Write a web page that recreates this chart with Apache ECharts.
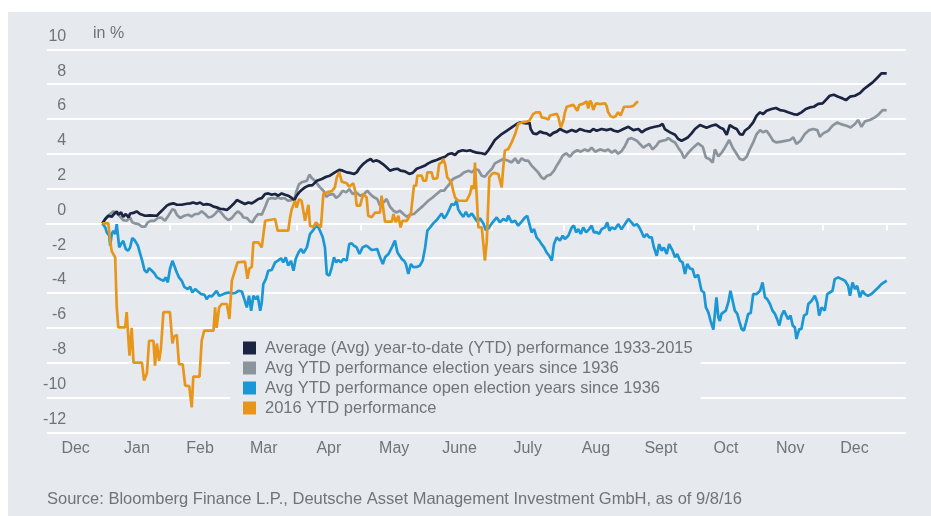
<!DOCTYPE html>
<html>
<head>
<meta charset="utf-8">
<script src="https://cdn.jsdelivr.net/npm/echarts@6/dist/echarts.min.js"></script>
<style>
  body { margin: 0; background: #ffffff; }
  #chart { position: absolute; left: 8px; top: 12px; width: 923px; height: 504px; background: #e6e9ed; }
</style>
</head>
<body>
<div id="chart"></div>
<script>
// x = trading days since 31 Dec, y = YTD performance in %
var monthNames = ['Dec', 'Jan', 'Feb', 'Mar', 'Apr', 'May', 'June', 'July', 'Aug', 'Sept', 'Oct', 'Nov', 'Dec'];
var monthBounds = [0.7, 21.5, 41.3, 62.4, 83.1, 104.4, 125.1, 148.2, 168.9, 190.0, 210.7, 231.3, 252.0];
var xMin = -17.9, xMax = 258.2;
var yTicks = [-12, -10, -8, -6, -4, -2, 0, 2, 4, 6, 8, 10];

var avgDays = [0,0.9,1.9,3.0,3.9,4.6,5.1,6.0,6.7,7.5,8.4,8.9,10.0,11.0,12.1,13.7,15.3,17.5,18.5,19.6,20.7,21.7,22.8,23.9,25.5,27.1,28.2,29.2,30.3,31.4,32.4,33.5,34.6,35.7,36.7,37.8,38.9,40.0,41.0,42.1,43.2,44.8,45.8,46.9,48.0,49.0,50.1,51.2,52.3,53.3,54.4,55.5,56.5,57.6,58.7,59.7,60.8,61.7,62.4,63.2,64.0,65.1,66.2,67.5,68.9,70.5,71.9,73.1,74.7,76.1,77.2,78.5,79.6,80.8,81.7,82.8,83.8,85.1,86.2,87.0,87.9,89.0,90.1,91.3,92.4,93.5,94.8,95.8,97.2,98.6,99.7,101.0,102.3,103.7,104.7,105.8,107.4,108.7,110.1,111.1,112.2,113.3,114.3,115.8,117.0,118.1,119.2,120.3,121.9,122.9,124.0,125.1,126.1,128.3,129.9,131.5,133.1,134.2,136.3,137.2,137.6,138.4,139.5,140.6,141.7,142.7,143.8,144.9,146.0,147.0,148.1,149.2,150.8,152.2,153.4,155.0,156.7,157.7,158.8,160.4,162.0,163.3,164.4,165.7,167.4,169.0,170.6,172.2,173.3,174.3,175.9,177.5,179.1,180.0,180.7,182.4,184.0,185.0,186.1,187.2,188.2,189.3,190.4,192.0,194.1,195.7,197.1,198.4,199.5,200.6,201.6,202.7,203.8,204.8,205.7,206.4,207.8,209.1,210.2,211.3,212.3,213.4,215.0,216.4,217.7,219.0,220.3,222.0,223.2,224.6,226.0,227.3,228.6,230.0,231.4,232.7,233.7,235.0,236.4,237.5,238.9,240.2,241.8,243.4,244.7,246.0,247.5,248.9,250.3,252.0];
var avgVals = [0,0.25,0.44,0.38,0.57,0.69,0.5,0.63,0.38,0.54,0.34,0.57,0.6,0.69,0.54,0.44,0.46,0.44,0.63,0.82,1.02,1.11,1.15,1.07,1.07,1.13,1.15,1.2,1.13,1.2,1.07,1.11,1.07,0.96,0.92,0.84,0.82,0.77,0.92,1.11,1.34,1.2,1.11,1.2,1.15,1.26,1.40,1.45,1.69,1.72,1.65,1.69,1.59,1.72,1.65,1.59,1.46,1.34,1.59,1.78,1.92,2.07,2.17,2.2,2.45,2.55,2.68,2.74,2.93,3.07,3.03,2.93,2.9,2.84,2.93,3.22,3.41,3.6,3.7,3.55,3.62,3.55,3.41,3.22,3.03,3.1,3.14,3.03,2.99,2.84,2.9,3.14,3.22,3.33,3.45,3.55,3.64,3.74,3.83,3.97,4.03,3.93,4.12,4.2,4.16,4.2,4.12,4.06,4.03,3.97,4.2,4.5,4.79,5.13,5.32,5.51,5.71,5.80,5.74,5.8,5.42,5.17,5.13,5.27,5.2,5.17,5.04,5.2,5.27,5.42,5.32,5.23,5.36,5.27,5.42,5.32,5.27,5.42,5.32,5.42,5.36,5.42,5.32,5.27,5.42,5.55,5.36,5.42,5.23,5.36,5.48,5.55,5.61,5.71,5.42,5.23,5.09,4.85,4.75,4.85,4.95,5.17,5.42,5.65,5.5,5.61,5.67,5.51,5.42,5.09,5.65,5.51,5.42,5.13,5.09,5.32,5.51,5.8,6.19,6.38,6.28,6.47,6.57,6.63,6.51,6.47,6.38,6.28,6.24,6.38,6.57,6.66,6.7,6.86,6.89,7.14,7.33,7.39,7.28,7.2,7.08,7.28,7.33,7.48,7.72,7.9,8.1,8.35,8.62,8.62];

var elecDays = [0,1.4,2.5,3.5,4.9,5.7,6.7,7.8,8.9,9.6,10.5,11.6,12.7,13.7,14.6,15.6,16.7,17.8,18.9,20.1,21.4,22.5,23.2,23.9,25.0,26.3,27.6,28.7,29.8,30.8,31.9,33.0,34.0,35.1,36.2,37.3,38.1,39.4,40.5,41.6,42.6,43.5,44.6,45.3,46.5,47.4,48.2,49.0,50.1,51.2,52.3,53.3,54.4,55.5,56.3,57.4,58.5,59.6,60.8,61.7,62.4,63.2,64.0,65.7,66.5,67.3,68.3,69.9,71.0,71.9,72.9,74.2,75.1,76.1,77.2,78.3,79.3,80.4,81.5,82.8,84.1,85.1,86.0,87.0,88.3,89.2,90.3,91.3,92.4,93.5,94.6,95.6,96.7,97.8,98.8,100.1,101.5,103.1,104.7,106.1,107.4,108.7,109.8,110.6,111.5,112.6,113.6,114.9,116.2,117.6,118.7,119.7,120.8,121.9,122.9,124.0,125.1,126.1,127.7,128.8,130.4,131.5,132.6,133.6,134.7,135.8,136.8,137.9,139.0,140.0,141.1,141.9,142.9,144.0,145.1,146.0,147.0,147.9,149.0,150.2,151.3,152.6,153.7,155.0,156.1,157.2,158.3,159.9,161.5,162.5,163.6,164.7,165.7,166.8,167.9,169.0,170.0,171.7,172.7,173.8,174.6,175.7,176.8,177.9,178.9,180.0,181.1,181.8,182.9,184.0,185.0,186.1,186.9,187.7,188.8,189.8,191.4,192.9,193.9,195.0,196.1,196.8,197.9,199.0,200.0,201.4,202.5,203.5,204.8,205.9,207.0,208.0,209.1,210.2,211.3,212.3,213.4,214.5,215.5,216.6,218.2,219.8,220.9,222.0,223.0,224.3,225.7,227.1,228.4,229.7,230.5,231.6,233.2,234.6,236.1,237.8,239.1,240.4,241.8,242.8,243.9,245.0,246.6,248.2,249.3,250.7,252.0];
var elecVals = [0,0.34,0.54,0.69,0.54,0.38,0.19,0.15,0.34,0.06,0,-0.04,-0.19,-0.19,0.06,0.15,0.15,0.31,0.34,0.15,0.5,0.82,0.76,0.5,0.31,0.44,0.5,0.4,0.54,0.54,0.69,0.54,0.34,0.38,0.54,0.77,0.63,0.34,0.19,0.31,0.54,0.69,0.54,0.34,0.3,0.11,0.06,0.31,0.54,0.5,0.96,1.40,1.46,1.42,1.49,1.42,1.46,1.3,1.34,1.4,1.88,2.26,2.36,2.45,2.8,2.6,2.45,2.07,1.88,1.53,1.65,1.68,1.46,1.6,1.88,1.78,1.97,1.69,1.78,1.59,1.69,1.88,1.69,1.53,1.4,1.02,1.2,1.4,0.96,0.73,0.63,0.73,0.54,0.38,0.5,0.54,0.77,1.02,1.3,1.49,1.69,1.88,1.88,2.07,2.26,2.55,2.64,2.74,2.93,3.03,2.93,3.12,3.07,2.74,2.68,2.93,3.12,3.45,3.6,3.7,3.6,3.5,3.74,3.45,3.74,3.6,3.6,3.32,3.12,2.93,2.64,2.55,2.74,2.8,3.03,3.32,3.6,3.89,4.03,3.83,4.07,4.2,4.12,4.25,4.16,4.35,4.12,4.25,4.16,4.25,4.07,4.2,4.0,4.15,4.45,4.85,4.9,4.75,4.56,4.35,4.45,4.56,4.25,4.45,4.7,4.75,4.79,4.9,4.75,4.65,4.35,4.07,3.74,3.93,4.16,4.35,4.6,4.4,3.79,3.7,3.5,4.25,3.85,4.07,4.35,4.79,4.35,4.07,3.7,3.64,3.83,4.25,4.65,5.13,5.36,5.23,5.32,5.04,4.75,4.65,4.7,4.75,4.79,4.94,4.56,4.75,5.13,5.36,5.42,5.36,4.98,5.17,5.32,5.61,5.8,5.67,5.61,5.51,5.71,5.94,5.55,5.86,5.94,6.09,6.24,6.51,6.5];

var openDays = [0,0.9,1.4,2.2,2.5,3.0,3.5,4.1,4.6,5.4,6.0,6.7,7.5,8.2,8.9,9.6,10.5,11.4,12.1,12.8,13.5,14.3,15.0,15.9,16.7,17.5,18.5,19.6,20.4,21.0,21.7,22.5,23.1,23.9,24.6,25.5,26.3,27.4,28.2,28.9,29.8,30.6,31.7,32.8,33.5,34.3,35.1,36.0,36.7,37.5,38.4,39.4,40.5,41.6,42.6,43.7,44.8,45.6,46.4,47.1,47.8,48.5,49.3,49.9,50.7,51.2,51.7,52.5,53.3,54.4,55.5,56.3,57.4,58.1,58.9,59.7,60.6,61.4,62.1,63.0,63.8,64.6,65.7,66.7,67.6,68.3,69.1,69.9,70.8,71.5,72.1,72.9,73.7,74.4,75.1,75.8,76.6,77.4,78.5,79.3,80.1,80.8,81.7,82.6,83.6,84.7,85.4,86.5,87.6,88.3,89.2,90.1,90.8,91.9,93.0,94.0,94.8,96.2,96.9,97.5,98.3,99.1,99.9,101.0,102.0,102.9,103.7,104.4,105.3,106.3,107.4,108.2,109.0,109.8,110.6,111.5,112.2,113.0,113.8,114.3,115.1,116.0,116.8,117.6,118.7,119.7,120.5,121.3,122.4,123.2,124.0,125.1,125.6,126.7,127.7,128.8,129.9,130.4,131.5,132.6,133.6,134.7,135.8,136.5,137.2,137.9,138.7,139.5,140.4,141.1,141.9,142.7,143.6,144.4,145.1,146.0,147.0,147.9,148.6,149.7,150.8,151.5,152.2,152.9,153.7,154.5,155.4,156.4,157.2,157.9,158.8,159.6,160.4,161.5,162.2,162.9,163.6,164.7,165.7,166.8,167.9,169.0,170.0,170.8,171.7,172.5,173.3,174.0,174.9,175.7,176.5,177.2,178.1,178.9,179.7,180.4,181.3,182.1,183.2,184.0,184.7,185.6,186.4,187.2,187.9,188.8,189.6,190.4,191.4,192.5,193.3,193.9,194.7,195.4,196.3,197.3,197.9,198.4,198.9,199.5,200.3,201.1,201.8,202.5,203.2,204.0,204.6,205.4,206.1,206.8,207.5,208.3,209.1,210.2,211.3,212.1,212.9,213.6,214.5,215.3,216.1,216.8,217.5,218.2,219.0,219.6,220.3,221.1,221.8,222.5,223.0,223.9,224.6,225.4,226.3,226.8,227.9,228.9,229.7,230.3,231.1,232.1,232.9,233.7,234.6,235.3,236.4,237.5,238.6,239.6,240.2,241.0,241.8,242.5,243.4,244.2,245.0,246.0,247.1,248.2,249.3,250.3,252.0];
var openVals = [0,-0.23,-0.52,-0.71,-1.28,-0.61,-0.42,-0.61,-0.04,-1.38,-1.19,-1.0,-1.47,-1.57,-1.38,-0.84,-1.0,-1.28,-1.72,-2.15,-2.68,-2.82,-2.57,-2.72,-2.87,-3.1,-3.2,-3.3,-3.1,-3.39,-2.62,-2.15,-2.43,-2.82,-3.1,-3.3,-3.64,-3.77,-3.64,-3.97,-3.77,-3.9,-4.06,-4.1,-4.35,-4.16,-4.2,-4.02,-3.87,-4.16,-4.1,-4.02,-3.97,-4.02,-4.0,-3.87,-3.91,-4.35,-4.83,-4.16,-5.02,-4.16,-4.35,-4.16,-5.02,-4.54,-3.49,-3.2,-2.72,-2.68,-2.24,-2.15,-2.0,-2.24,-1.95,-2.43,-2.15,-2.72,-2.05,-1.67,-1.47,-1.7,-1.38,-0.61,-0.42,-0.23,-0.13,-0.42,-0.8,-1.38,-2.91,-3.0,-2.52,-1.95,-2.24,-2.1,-2.24,-2.05,-2.14,-1.19,-1.15,-1.28,-1.38,-1.76,-1.38,-1.28,-1.35,-1.53,-1.5,-1.47,-1.95,-2.33,-1.95,-1.76,-1.38,-0.99,-1.67,-2.05,-2.14,-2.33,-2.91,-2.33,-2.52,-2.5,-2.43,-2.14,-1.38,-0.42,-0.23,0.0,0.19,0.38,0.57,0.29,0.48,0.82,1.11,1.05,1.30,0.82,0.57,0.38,0.67,0.38,0.57,0.29,0.1,0.29,0.0,-0.38,-0.29,0.0,0.06,0.34,0.06,0.25,0.15,0.44,0.06,0.15,-0.13,0.1,0.34,0.44,-0.04,-0.52,-0.33,-0.8,-0.99,-1.19,-1.38,-1.67,-1.86,-2.14,-1.19,-0.8,-0.99,-0.71,-0.9,-0.71,-0.23,-0.13,-0.52,-0.33,-0.61,-0.23,-0.52,-0.33,-0.13,-0.52,-0.5,-0.61,-0.33,-0.23,0.06,-0.42,-0.23,-0.33,-0.04,-0.33,-0.04,0.25,0.06,-0.13,-0.04,-0.23,-0.52,-0.8,-0.61,-0.8,-0.8,-1.38,-1.86,-1.19,-1.57,-1.38,-1.76,-1.19,-1.57,-1.95,-1.76,-2.14,-2.24,-2.9,-2.33,-2.6,-2.62,-3.1,-2.95,-3.87,-3.97,-4.83,-5.11,-5.6,-6.1,-4.25,-5.4,-5.6,-5.2,-5.11,-5.01,-4.54,-3.87,-4.44,-5.01,-5.2,-5.6,-6.07,-6.16,-5.7,-5.2,-5.15,-4.06,-4.06,-3.87,-3.39,-4.25,-4.35,-4.63,-5.01,-5.2,-5.5,-5.87,-5.3,-5.01,-5.1,-5.5,-5.3,-5.87,-5.97,-6.64,-6.07,-6.07,-5.3,-5.2,-4.63,-4.44,-4.16,-4.54,-5.3,-4.83,-5.01,-4.06,-3.97,-3.87,-3.2,-3.1,-3.2,-3.29,-3.58,-4.16,-3.39,-3.77,-3.58,-4.25,-3.87,-4.06,-4.16,-4.06,-3.87,-3.68,-3.49,-3.29];

var ytdDays = [0,1.9,2.5,3.0,4.1,4.6,5.1,7.3,7.8,8.7,9.4,10.0,12.7,13.4,14.3,15.0,16.4,16.9,17.5,18.2,18.8,19.6,21.7,22.5,23.0,23.9,24.6,25.8,26.6,27.9,28.7,29.2,31.2,31.9,32.7,35.7,36.2,36.7,37.5,38.4,40.0,40.8,41.6,42.1,43.4,45.8,46.6,47.2,48.0,48.5,50.1,51.2,52.3,55.5,56.3,59.7,60.3,60.8,61.9,62.4,63.2,64.0,65.1,66.2,66.7,67.8,68.6,70.2,71.0,72.1,73.7,74.7,75.3,76.1,76.9,78.5,79.3,80.6,81.2,81.7,82.8,83.8,84.9,85.4,86.5,87.6,89.2,89.7,90.8,93.0,93.5,94.3,95.1,95.8,96.4,97.8,99.1,99.7,100.1,100.8,101.2,102.6,103.1,104.0,104.4,105.8,106.3,107.6,108.2,109.0,109.5,110.1,110.8,112.1,112.7,113.3,114.3,117.0,118.1,118.7,119.4,119.7,120.8,121.9,122.9,123.5,124.3,125.1,125.8,127.2,128.3,128.8,129.3,130.4,131.5,132.6,133.6,134.7,136.3,137.2,138.4,139.3,140.6,141.1,142.2,143.3,143.8,144.4,146.0,146.5,147.0,147.3,148.1,148.6,149.2,150.2,151.3,151.8,152.6,153.2,154.0,154.7,155.6,156.1,156.7,157.2,157.7,158.6,159.9,161.5,162.0,162.5,163.3,164.1,164.9,165.7,166.5,167.6,169.5,170.6,171.1,171.7,172.2];
var ytdVals = [0,0,-1.0,-1.6,-1.95,-4.8,-5.97,-5.97,-5.1,-7.6,-6.0,-8.0,-8.0,-9.03,-8.6,-6.74,-6.74,-8.17,-6.9,-7.9,-7.2,-5.1,-5.1,-6.9,-6.5,-6.4,-8.08,-8.1,-9.32,-9.35,-10.57,-8.8,-8.8,-6.74,-6.16,-6.16,-4.82,-6.0,-4.82,-4.63,-4.63,-5.49,-3.29,-3.2,-2.24,-2.2,-3.18,-2.6,-2.5,-1.09,-1.09,-1.38,0.15,0.25,-0.42,-0.42,0.34,0.8,1.3,0.9,1.4,1.3,0.15,1.07,-0.15,-0.2,0.05,-0.23,1.69,1.78,1.85,2.07,2.64,2.93,2.4,2.3,2.1,2.3,1.88,1.02,1.02,1.69,1.49,0.44,0.35,0.62,0.62,1.59,0.1,0.1,0.54,0.06,0.44,-0.23,0.15,0.15,0.54,1.49,2.17,2.17,2.74,2.74,2.45,2.45,2.93,2.93,2.55,2.6,3.41,3.5,3.70,3.41,2.64,2.36,1.88,1.49,1.30,1.30,1.69,2.17,1.98,3.5,-0.23,-0.23,-2.14,-1.05,2.64,2.84,2.9,2.84,2.07,3.22,4.18,4.27,4.65,5.13,5.71,5.8,5.85,5.9,6.28,6.38,6.38,6.09,6.05,5.97,6.2,6.3,6.3,6.1,5.71,5.51,5.9,6.38,6.7,6.75,6.82,6.75,6.47,6.8,6.85,6.89,7.01,6.6,7.05,6.9,6.51,6.9,6.85,6.9,6.75,6.38,6.16,6.09,6.15,6.38,6.2,6.7,6.7,6.75,6.82,6.96,6.96];

function pairs(xs, ys) {
    return xs.map(function (x, i) { return [x, ys[i]]; });
}

var labelPos = [];
for (var i = 0; i < monthNames.length; i++) {
    var lo = i === 0 ? xMin : monthBounds[i - 1];
    labelPos.push((lo + monthBounds[i]) / 2);
}

var textGray = '#6f7479';
var font = 'Liberation Sans';

var chart = echarts.init(document.getElementById('chart'), null, { renderer: 'canvas' });

var option = {
    animation: false,
    backgroundColor: '#e6e9ed',
    textStyle: { fontFamily: font },
    grid: { left: 38.7, right: 25, top: 37.3, bottom: 83.7 },
    legend: {
        orient: 'vertical',
        left: 222,
        top: 323,
        padding: [3, 8, 3, 13],
        backgroundColor: '#e6e9ed',
        itemWidth: 13,
        itemHeight: 13,
        itemGap: 0,
        icon: 'rect',
        textStyle: { color: textGray, fontSize: 16.5, fontFamily: font, lineHeight: 20, padding: [0, 0, 0, 4] },
        data: [
            'Average (Avg) year-to-date (YTD) performance 1933-2015',
            'Avg YTD performance election years since 1936',
            'Avg YTD performance open election years since 1936',
            '2016 YTD performance'
        ]
    },
    graphic: [
        { type: 'text', left: 85, top: 14, style: { text: 'in %', fill: textGray, font: '16px "Liberation Sans"' } },
        { type: 'text', left: 39, top: 479, style: { text: 'Source: Bloomberg Finance L.P., Deutsche Asset Management Investment GmbH, as of 9/8/16', fill: textGray, font: '16.5px "Liberation Sans"' } }
    ],
    xAxis: {
        type: 'value',
        min: xMin,
        max: xMax,
        splitLine: { show: false },
        axisLine: { show: true, lineStyle: { color: '#ffffff', width: 2 } },
        axisTick: { show: true, inside: false, length: 7, customValues: monthBounds, lineStyle: { color: '#ffffff', width: 2 } },
        axisLabel: {
            customValues: labelPos,
            margin: 8,
            color: textGray,
            fontSize: 16,
            fontFamily: font,
            formatter: function (v) {
                for (var k = 0; k < labelPos.length; k++) {
                    if (Math.abs(labelPos[k] - v) < 1e-6) return monthNames[k];
                }
                return '';
            }
        }
    },
    yAxis: {
        type: 'value',
        min: yTicks[0],
        max: yTicks[yTicks.length - 1],
        interval: 2,
        axisLine: { show: false },
        axisTick: { show: false },
        splitLine: { show: true, lineStyle: { color: '#ffffff', width: 2 } },
        axisLabel: {
            margin: -19.5,
            align: 'right',
            verticalAlign: 'bottom',
            lineHeight: 18,
            padding: [0, 0, 4, 0],
            color: textGray,
            fontSize: 16,
            fontFamily: font
        }
    },
    series: [
        {
            name: 'Average (Avg) year-to-date (YTD) performance 1933-2015',
            type: 'line', showSymbol: false, z: 3,
            color: '#1b2440',
            lineStyle: { width: 2.7 },
            data: pairs(avgDays, avgVals)
        },
        {
            name: 'Avg YTD performance election years since 1936',
            type: 'line', showSymbol: false, z: 2,
            color: '#8b949c',
            lineStyle: { width: 2.7 },
            data: pairs(elecDays, elecVals)
        },
        {
            name: 'Avg YTD performance open election years since 1936',
            type: 'line', showSymbol: false, z: 4,
            color: '#1a97d4',
            lineStyle: { width: 2.7 },
            data: pairs(openDays, openVals)
        },
        {
            name: '2016 YTD performance',
            type: 'line', showSymbol: false, z: 5,
            color: '#e8961b',
            lineStyle: { width: 2.7 },
            data: pairs(ytdDays, ytdVals)
        }
    ]
};
chart.setOption(option);
</script>
</body>
</html>
